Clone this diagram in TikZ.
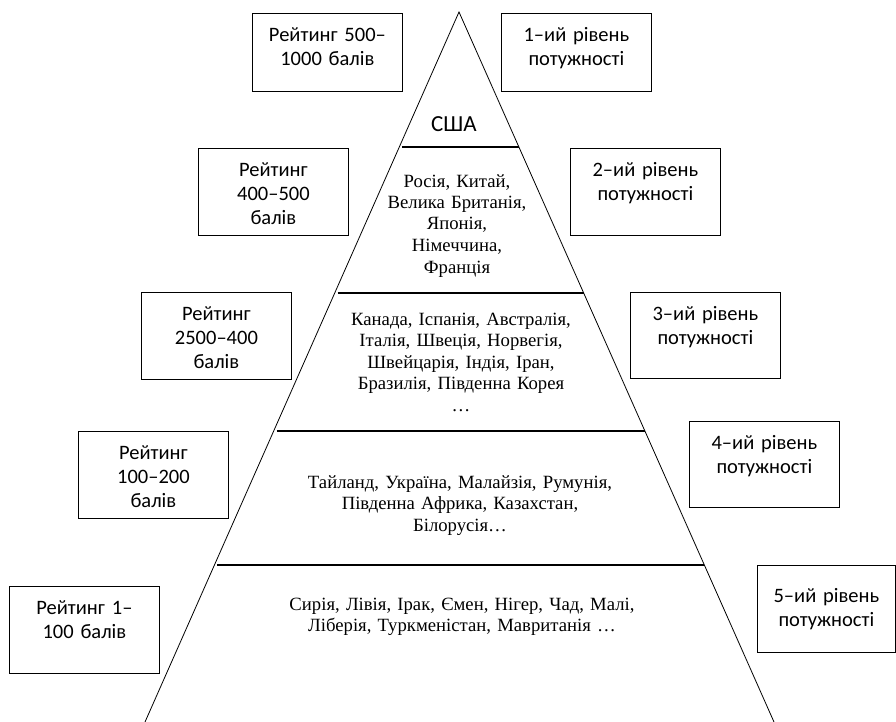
\documentclass[tikz,border=0pt]{standalone}
\usepackage{fontspec}
\setmainfont{Liberation Serif}
\newfontfamily\boxsans{Carlito}
\usetikzlibrary{calc}

\begin{document}
\begin{tikzpicture}[x=1pt, y=-1pt,
    ratebox/.style = {draw, line width=0.8pt, inner sep=0pt, text width=150pt, align=center,
      anchor=north west, text height=28pt, text depth=59pt,
      font=\boxsans\fontsize{20.5}{24}\selectfont},
    tier/.style = {inner sep=0pt, text width=400pt, align=center, anchor=base,
      font=\fontsize{18.7}{21.5}\selectfont},
    pyrside/.style = {line width=0.8pt},
    levelline/.style = {line width=1.6pt}]
    \useasboundingbox (0,0) rectangle (896,722);
    % pyramid
    \coordinate (apex) at (459,12);
    \coordinate (bl) at (145,722);
    \coordinate (br) at (774,722);
    \draw[pyrside] (bl) -- (apex) -- (br);
    \foreach \t in {0.190,0.396,0.590,0.779}
        \draw[levelline] ($(apex)!\t!(bl)+(3,0)$) -- ($(apex)!\t!(br)$);
    % countries on each level
    \node[tier, font=\boxsans\fontsize{23}{27}\selectfont] (t1) at (454,132) {США};
    \node[tier] (t2) at (457,187) {Росія, Китай,\\Велика Британія,\\Японія,\\Німеччина,\\Франція};
    \node[tier] (t3) at (461,325) {Канада, Іспанія, Австралія,\\Італія, Швеція, Норвегія,\\Швейцарія, Індія, Іран,\\Бразилія, Південна Корея\\…};
    \node[tier] (t4) at (460,488) {Тайланд, Україна, Малайзія, Румунія,\\Південна Африка, Казахстан,\\Білорусія…};
    \node[tier] (t5) at (462,610) {Сирія, Лівія, Ірак, Ємен, Нігер, Чад, Малі,\\Ліберія, Туркменістан, Мавританія …};
    % rating boxes
    \node[ratebox, text depth=50pt] (rate1) at (252,13) {Рейтинг 500–\\1000 балів};
    \node[ratebox] (rate2) at (198,148) {Рейтинг\\400–500\\балів};
    \node[ratebox] (rate3) at (141,292) {Рейтинг\\2500–400\\балів};
    \node[ratebox] (rate4) at (78,431) {Рейтинг\\100–200\\балів};
    \node[ratebox] (rate5) at (9,586) {Рейтинг 1–\\100 балів};
    % power level boxes
    \node[ratebox, text depth=50pt] (level1) at (501,13) {1–ий рівень\\потужності};
    \node[ratebox] (level2) at (570,148) {2–ий рівень\\потужності};
    \node[ratebox, text depth=58pt] (level3) at (630,292) {3–ий рівень\\потужності};
    \node[ratebox, text depth=58pt] (level4) at (689,421) {4–ий рівень\\потужності};
    \node[ratebox, text width=138pt, text height=37pt, text depth=50pt] (level5) at (757,565) {5–ий рівень\\потужності};
\end{tikzpicture}
\end{document}
